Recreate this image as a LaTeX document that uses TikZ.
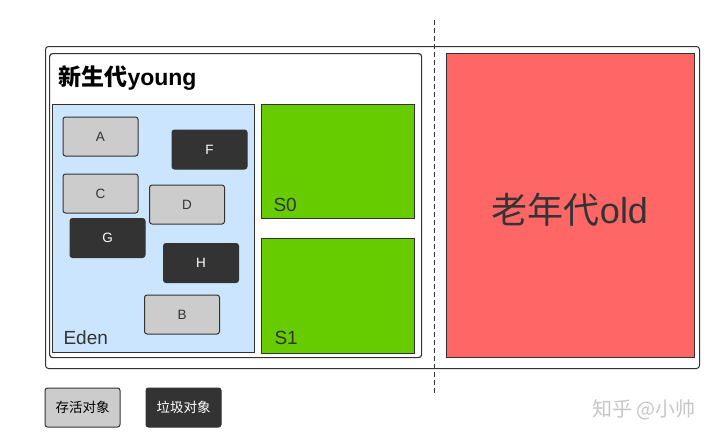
\documentclass[tikz,border=0pt]{standalone}
\usepackage{fontspec}
\setmainfont{Liberation Sans}
\newfontfamily\cjk{Noto Sans CJK SC}
\usetikzlibrary{positioning}

\definecolor{linegray}{HTML}{333333}
\definecolor{edenblue}{HTML}{CCE5FF}
\definecolor{survgreen}{HTML}{66CC00}
\definecolor{oldred}{HTML}{FF6666}
\definecolor{livegray}{HTML}{CCCCCC}
\definecolor{deadgray}{HTML}{333333}

\begin{document}
\begin{tikzpicture}[x=1pt,y=-1pt]
		\tikzset{
			area/.style={draw=linegray, line width=1pt, anchor=north west, inner sep=0pt},
			obj/.style={draw=linegray, line width=1pt, rounded corners=2.5pt, minimum width=75pt, minimum height=39pt, inner sep=0pt, font=\fontsize{13.5}{14}\selectfont},
			live/.style={obj, fill=livegray, text=linegray},
			dead/.style={obj, fill=deadgray, text=white},
			legend/.style={obj, font=\cjk\fontsize{13.5}{14}\selectfont},
			areatext/.style={anchor=west, text=linegray, font=\fontsize{19}{20}\selectfont}
		}
		\useasboundingbox (0,0) rectangle (720,447);

		% Heap frame
		\node[area, rounded corners=3pt, minimum width=654pt, minimum height=322pt] (heap) at (45,46) {};

		% Young generation
		\node[area, line width=1.2pt, rounded corners=3pt, fill=white, minimum width=372pt, minimum height=304pt] (young) at (49,53) {};
		\node[anchor=west, font=\bfseries\fontsize{23}{24}\selectfont] (youngtitle) at (55,78) {{\cjk 新生代}young};

		\node[area, fill=edenblue, minimum width=202pt, minimum height=248pt] (eden) at (52,104) {};
		\node[area, fill=survgreen, minimum width=153pt, minimum height=114pt] (s0) at (261,104) {};
		\node[area, fill=survgreen, minimum width=153pt, minimum height=115pt, anchor=north, below=19pt of s0] (s1) {};

		\node[areatext] (edenlabel) at (60,338) {Eden};
		\node[areatext] (s0label) at (270,205) {S0};
		\node[areatext] (s1label) at (271,338) {S1};

		% Objects in Eden
		\node[live] (a) at (100.5,136.5) {A};
		\node[dead] (f) at (209.5,149.5) {F};
		\node[live] (c) at (100.5,193.5) {C};
		\node[live] (d) at (187,204.5) {D};
		\node[dead] (g) at (107.5,238) {G};
		\node[dead] (h) at (201,263) {H};
		\node[live] (b) at (182,314.5) {B};

		% Old generation
		\node[area, fill=oldred, minimum width=248pt, minimum height=304pt] (old) at (446,53) {};
		\node[text=linegray, font=\fontsize{36}{38}\selectfont] (oldlabel) at (570,210) {{\cjk 老年代}old};

		% Divider
		\coordinate (cuttop) at (434,20);
		\coordinate (cutbot) at (434,393);
		\draw[linegray, line width=1pt, dash pattern=on 5pt off 3pt] (cuttop) -- (cutbot);

		% Legend
		\node[legend, fill=livegray, text=black] (livekey) at (82.5,407.5) {存活对象};
		\node[legend, fill=deadgray, text=white, right=25pt of livekey] (deadkey) {垃圾对象};

		\node[text=gray!45, font=\cjk\fontsize{20}{20}\selectfont] (mark) at (644,410) {知乎 @小帅};
	\end{tikzpicture}
\end{document}
